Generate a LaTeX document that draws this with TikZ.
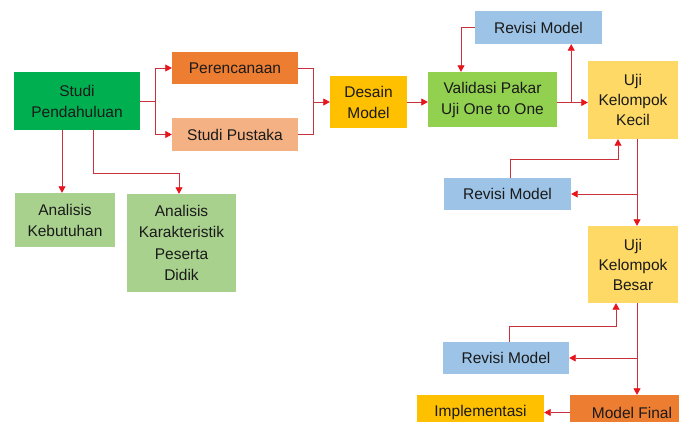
\documentclass[tikz,border=0pt]{standalone}
\usepackage{fontspec}
\setmainfont{Liberation Sans}
\usetikzlibrary{arrows.meta}
\definecolor{cSP}{HTML}{00B050}
\definecolor{cPer}{HTML}{ED7D31}
\definecolor{cPus}{HTML}{F4B183}
\definecolor{cDes}{HTML}{FFC000}
\definecolor{cAn}{HTML}{A9D18E}
\definecolor{cVal}{HTML}{92D050}
\definecolor{cRev}{HTML}{9DC3E6}
\definecolor{cUji}{HTML}{FFD966}
\definecolor{cLine}{HTML}{C9313D}
\definecolor{cTip}{HTML}{E8141C}
\definecolor{cTxt}{HTML}{1A1A1A}
\tikzset{
  box/.style={rectangle, inner sep=0pt, align=center, text=cTxt,
    font=\fontsize{15.5}{20}\selectfont},
  conn/.style={draw=cLine, line width=0.8pt},
  arr/.style={conn, -{Triangle[length=6.5pt,width=7pt,color=cTip]}},
}
\begin{document}
\begin{tikzpicture}[x=1pt,y=-1pt]
\useasboundingbox (0,0) rectangle (679,421);
\clip (0,0) rectangle (679,421);
\fill[white] (0,0) rectangle (679,421);

\node[box, fill=cSP, minimum width=126pt, minimum height=58pt, font=\fontsize{15.5}{21}\selectfont] (sp) at (77,101) {Studi\\Pendahuluan};
\node[box, fill=cPer, minimum width=126pt, minimum height=32pt] (per) at (235,68) {Perencanaan};
\node[box, fill=cPus, minimum width=126pt, minimum height=33pt] (pus) at (235,134.5) {Studi Pustaka};
\node[box, fill=cDes, minimum width=77pt, minimum height=52pt, font=\fontsize{15.5}{21}\selectfont] (des) at (368.5,102) {Desain\\Model};
\node[box, fill=cAn, minimum width=100pt, minimum height=54pt, font=\fontsize{15.5}{21}\selectfont] (ak) at (65,220) {Analisis\\Kebutuhan};
\node[box, fill=cAn, minimum width=109pt, minimum height=98pt, font=\fontsize{15.5}{21.5}\selectfont] (akp) at (181.5,243) {Analisis\\Karakteristik\\Peserta\\Didik};
\node[box, fill=cVal, minimum width=129pt, minimum height=55pt, font=\fontsize{15.5}{21}\selectfont] (val) at (492.5,99.5) {Validasi Pakar\\Uji One to One};
\node[box, fill=cRev, minimum width=127pt, minimum height=33pt] (rev1) at (538.5,27.5) {Revisi Model};
\node[box, fill=cUji, minimum width=90pt, minimum height=78pt] (ukk) at (633,100) {Uji\\Kelompok\\Kecil};
\node[box, fill=cRev, minimum width=127pt, minimum height=32pt] (rev2) at (507.5,194) {Revisi Model};
\node[box, fill=cUji, minimum width=90pt, minimum height=77pt] (ukb) at (633,264.5) {Uji\\Kelompok\\Besar};
\node[box, fill=cRev, minimum width=126pt, minimum height=32pt] (rev3) at (506,358) {Revisi Model};
\node[box, fill=cPer, minimum width=124pt, minimum height=35pt] (mf) at (632,412.5) {Model Final};
\node[box, fill=cDes, minimum width=127pt, minimum height=35pt] (imp) at (480.5,412.5) {Implementasi};

% Studi Pendahuluan -> Perencanaan / Studi Pustaka
\coordinate (j1) at ([xshift=15pt]sp.east);
\draw[conn] (sp.east) -- (j1);
\draw[arr] (j1) |- (per.west);
\draw[arr] (j1) |- (pus.west);
% Perencanaan / Studi Pustaka -> Desain Model
\coordinate (j2) at ([xshift=15pt]per.east |- des.west);
\draw[conn] (per.east) -| (j2);
\draw[conn] (pus.east) -| (j2);
\draw[arr] (j2) -- (des.west);
% Studi Pendahuluan -> Analisis
\draw[arr] ([xshift=-15pt]sp.south) -- ([xshift=-15pt]sp.south |- ak.north);
\draw[arr] ([xshift=16pt]sp.south) |- ([xshift=-2.5pt,yshift=20pt]akp.north) -- ([xshift=-2.5pt]akp.north);
% Desain -> Validasi
\draw[arr] (des.east) -- (des.east -| val.west);
% Validasi -> Uji Kecil, branch to Revisi 1
\coordinate (v1) at ([yshift=-3pt]val.east);
\draw[arr] (v1) -- (v1 -| ukk.west);
\coordinate (b1) at ([xshift=14pt]v1);
\draw[arr] (b1) -- (b1 |- rev1.south);
\draw[arr] (rev1.west) -| ([xshift=-31.5pt]val.north);
% Uji Kecil -> Uji Besar, branch to Revisi 2
\draw[arr] ([xshift=4pt]ukk.south) -- ([xshift=4pt]ukk.south |- ukb.north);
\draw[arr] ([xshift=4pt]ukk.south |- rev2.east) -- (rev2.east);
\draw[arr] ([xshift=2.5pt]rev2.north) |- ([xshift=-15pt,yshift=-20pt]ukk.south) -- ([xshift=-15pt]ukk.south);
% Uji Besar -> Model Final, branch to Revisi 3
\draw[arr] ([xshift=4pt]ukb.south) -- ([xshift=4pt]ukb.south |- mf.north);
\draw[arr] ([xshift=4pt]ukb.south |- rev3.east) -- (rev3.east);
\draw[arr] ([xshift=3pt]rev3.north) |- ([xshift=-17pt,yshift=-23pt]ukb.south) -- ([xshift=-17pt]ukb.south);
% Model Final -> Implementasi
\draw[arr] (mf.west) -- (imp.east);
\end{tikzpicture}
\end{document}
